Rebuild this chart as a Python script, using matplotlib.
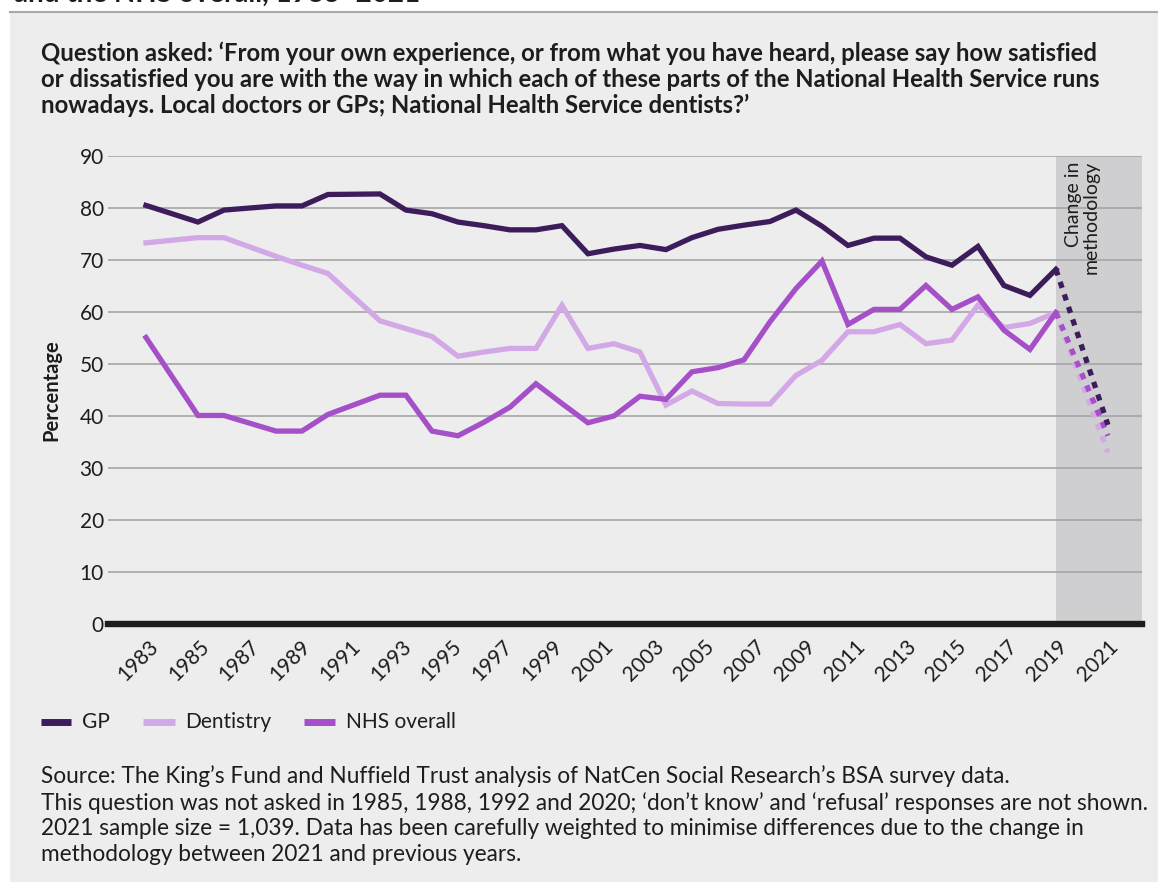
import matplotlib
matplotlib.use('Agg')
import matplotlib.pyplot as plt
import numpy as np
from matplotlib.lines import Line2D
from matplotlib.patches import Rectangle

plt.rcParams['font.family'] = ['Lato', 'DejaVu Sans']

years = [1984, 1986, 1987, 1989, 1990, 1991, 1993, 1994, 1995, 1996, 1997,
         1998, 1999, 2000, 2001, 2002, 2003, 2004, 2005, 2006, 2007, 2008,
         2009, 2010, 2011, 2012, 2013, 2014, 2015, 2016, 2017, 2018, 2019]
gp = [80.5, 77.3, 79.6, 80.4, 80.4, 82.6, 82.7, 79.6, 78.9, 77.3, 76.6,
      75.8, 75.8, 76.6, 71.2, 72.1, 72.8, 72.0, 74.3, 75.9, 76.7, 77.4,
      79.6, 76.5, 72.8, 74.2, 74.2, 70.6, 69.0, 72.6, 65.1, 63.2, 68.2]
dentistry = [73.3, 74.3, 74.3, 70.7, 69.0, 67.4, 58.3, 56.8, 55.3, 51.5, 52.3,
             53.0, 53.0, 61.3, 53.0, 53.9, 52.3, 42.1, 44.8, 42.4, 42.3, 42.3,
             47.8, 50.7, 56.2, 56.2, 57.6, 53.9, 54.6, 61.3, 57.0, 57.8, 59.9]
nhs = [55.1, 40.1, 40.1, 37.1, 37.1, 40.3, 44.0, 44.0, 37.1, 36.2, 38.8,
       41.7, 46.2, 42.4, 38.7, 40.0, 43.8, 43.2, 48.5, 49.3, 50.8, 58.1,
       64.5, 69.8, 57.6, 60.5, 60.5, 65.1, 60.5, 62.9, 56.5, 52.8, 59.9]
year_2021 = 2021
gp_2021 = 38.3
dentistry_2021 = 33.0
nhs_2021 = 36.2

tick_labels = [str(y) for y in range(1983, 2022, 2)]
series_names = ['GP', 'Dentistry', 'NHS overall']

C_GP = '#3d1c5b'
C_DENT = '#d3a8e6'
C_NHS = '#a54fc8'
BG = '#ededed'
TXT = '#1d1d1b'

W, H = 1158, 882
fig = plt.figure(figsize=(W / 100, H / 100), dpi=100, facecolor='white')

def fx(px):
    return px / W

def fy(py):
    return 1 - py / H

# grey panel background
fig.add_artist(Rectangle((fx(10), 0), 1 - fx(10), fy(13), transform=fig.transFigure,
                         facecolor=BG, edgecolor='none', zorder=-10))
fig.add_artist(Line2D([fx(10), 1], [fy(12), fy(12)], transform=fig.transFigure,
                      color='#a8a8a8', lw=1.5))

# cut-off header
fig.text(fx(14), fy(2), 'and the NHS overall, 1983\u20132021', fontsize=20,
         fontweight='bold', color=TXT, va='baseline', ha='left')

fig.text(fx(41), fy(42),
         'Question asked: \u2018From your own experience, or from what you have heard, please say how satisfied\n'
         'or dissatisfied you are with the way in which each of these parts of the National Health Service runs\n'
         'nowadays. Local doctors or GPs; National Health Service dentists?\u2019',
         fontsize=17.2, fontweight='bold', color=TXT, va='top', ha='left', linespacing=1.15)

L, R, T, B = 108, 1142, 156, 624
ax = fig.add_axes([fx(L), fy(B), fx(R) - fx(L), fy(T) - fy(B)])
ax.set_facecolor(BG)
ax.set_xlim(1982.54, 2022.31)
ax.set_ylim(0, 90)

ax.axvspan(2019, 2022.31, color='#cfcfd1', zorder=0.5, lw=0)
for v in range(10, 91, 10):
    ax.axhline(v, color='#a6a6a6', lw=1.2, zorder=1)
ax.axhline(0, color=TXT, lw=4.6, zorder=6, clip_on=False)

lw = 3.8
ax.plot(years, dentistry, color=C_DENT, lw=lw, zorder=3, solid_joinstyle='miter')
ax.plot(years, nhs, color=C_NHS, lw=lw, zorder=4, solid_joinstyle='miter')
ax.plot(years, gp, color=C_GP, lw=lw, zorder=5, solid_joinstyle='miter')

dot = (0, (1.2, 1.3))
ax.plot([years[-1], year_2021], [dentistry[-1], dentistry_2021], color=C_DENT, lw=lw,
        ls=dot, dash_capstyle='butt', zorder=3)
ax.plot([years[-1], year_2021], [nhs[-1], nhs_2021], color=C_NHS, lw=lw,
        ls=dot, dash_capstyle='butt', zorder=4)
ax.plot([years[-1], year_2021], [gp[-1], gp_2021], color=C_GP, lw=lw,
        ls=dot, dash_capstyle='butt', zorder=5)

for s in ax.spines.values():
    s.set_visible(False)

ax.set_yticks(range(0, 91, 10))
ax.tick_params(axis='y', length=0, pad=3, labelsize=15, labelcolor=TXT)
ticks = np.linspace(1984.1, 2021.0, len(tick_labels))
ax.set_xticks(ticks)
ax.set_xticklabels(tick_labels, rotation=45, ha='right', va='top',
                   rotation_mode='anchor', fontsize=15, color=TXT)
ax.tick_params(axis='x', length=0, pad=9)

ax.set_ylabel('Percentage', fontsize=14.5, fontweight='bold', color=TXT, labelpad=13)

ax.text(2020.0, 89.0, 'Change in\nmethodology', rotation=90, ha='center', va='top',
        multialignment='right', fontsize=14, color=TXT, zorder=7, linespacing=1.05)

# legend
leg_y = fy(722)
legend_items = [(41, 71, 82, C_GP), (143, 175, 185, C_DENT), (304, 335, 346, C_NHS)]
for name, (x0, x1, xt, c) in zip(series_names, legend_items):
    fig.add_artist(Line2D([fx(x0), fx(x1)], [leg_y, leg_y], transform=fig.transFigure,
                          color=c, lw=5, solid_capstyle='butt'))
    fig.text(fx(xt), leg_y, name, fontsize=15, color=TXT, va='center', ha='left')

fig.text(fx(41), fy(765),
         'Source: The King\u2019s Fund and Nuffield Trust analysis of NatCen Social Research\u2019s BSA survey data.\n'
         'This question was not asked in 1985, 1988, 1992 and 2020; \u2018don\u2019t know\u2019 and \u2018refusal\u2019 responses are not shown.\n'
         '2021 sample size = 1,039. Data has been carefully weighted to minimise differences due to the change in\n'
         'methodology between 2021 and previous years.',
         fontsize=16.3, color=TXT, va='top', ha='left', linespacing=1.27)

fig.savefig('out.png', dpi=100, facecolor=fig.get_facecolor())
